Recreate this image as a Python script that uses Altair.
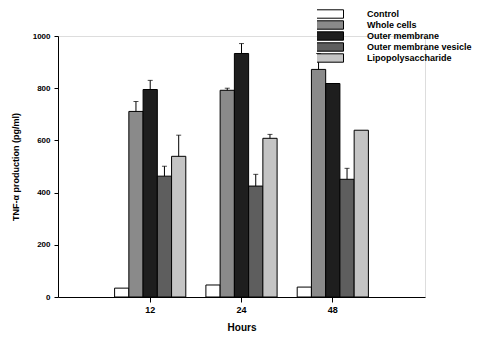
import altair as alt
import pandas as pd

hours = ["12", "24", "48"]
series = ["Control", "Whole cells", "Outer membrane", "Outer membrane vesicle", "Lipopolysaccharide"]
colors = ["#ffffff", "#8a8a8a", "#1e1e1e", "#5e5e5e", "#c4c4c4"]
values = {
    "Control": [34, 46, 38],
    "Whole cells": [711, 792, 872],
    "Outer membrane": [795, 933, 818],
    "Outer membrane vesicle": [463, 425, 451],
    "Lipopolysaccharide": [539, 608, 639],
}
err_top = {
    "Control": [None, None, None],
    "Whole cells": [749, 800, 933],
    "Outer membrane": [830, 971, None],
    "Outer membrane vesicle": [501, 470, 493],
    "Lipopolysaccharide": [620, 623, None],
}

rows = []
for s in series:
    for i, h in enumerate(hours):
        rows.append({"Hours": h, "Series": s, "value": values[s][i], "err": err_top[s][i]})
df = pd.DataFrame(rows)

font = "Liberation Sans"
x_enc = alt.X("Hours:N", sort=hours, title="Hours",
              scale=alt.Scale(paddingInner=0.22, paddingOuter=0.62),
              axis=alt.Axis(labelAngle=0, labelFont=font, labelFontWeight="bold", labelFontSize=9,
                            titleFont=font, titleFontWeight="bold", titleFontSize=10,
                            titlePadding=8, domainColor="black", tickColor="black",
                            tickSize=5, labelPadding=3, labelColor="black", titleColor="black"))
xo = alt.XOffset("Series:N", sort=series, scale=alt.Scale(paddingInner=0, paddingOuter=0))

bars = alt.Chart(df).mark_bar(stroke="black", strokeWidth=1).encode(
    x=x_enc,
    xOffset=xo,
    y=alt.Y("value:Q", title="TNF-α production (pg/ml)",
            scale=alt.Scale(domain=[0, 1000]),
            axis=alt.Axis(values=[0, 200, 400, 600, 800, 1000], grid=False, format="d",
                          labelFont=font, labelFontWeight="bold", labelFontSize=8,
                          titleFont=font, titleFontWeight="bold", titleFontSize=9,
                          titlePadding=12, domainColor="black", tickColor="black",
                          tickSize=4, labelPadding=4, labelColor="black", titleColor="black")),
    fill=alt.Fill("Series:N", sort=series,
                  scale=alt.Scale(domain=series, range=colors),
                  legend=alt.Legend(title=None, orient="none", legendX=259, legendY=-27.5,
                                    symbolType="M-1.6,-0.42H1.6V0.42H-1.6Z", symbolSize=400,
                                    symbolStrokeColor="black", symbolStrokeWidth=1,
                                    rowPadding=0, clipHeight=11, padding=0,
                                    labelFont=font, labelFontWeight="bold", labelFontSize=9,
                                    labelColor="black", labelOffset=29, labelLimit=200)),
)

edf = df.dropna(subset=["err"])
rules = alt.Chart(edf).mark_rule(color="black", strokeWidth=1).encode(
    x=alt.X("Hours:N", sort=hours), xOffset=xo,
    y="value:Q", y2="err:Q")
caps = alt.Chart(edf).mark_tick(color="black", orient="horizontal", size=5, thickness=1).encode(
    x=alt.X("Hours:N", sort=hours), xOffset=xo,
    y="err:Q")

chart = alt.layer(bars, rules, caps).properties(
    width=367, height=261,
    autosize=alt.AutoSizeParams(type="none"),
    padding={"left": 50, "top": 28, "right": 52, "bottom": 35},
).configure_view(stroke=None).configure(background="white")

chart.save("out.html", embed_options={"renderer": "svg", "actions": False})
